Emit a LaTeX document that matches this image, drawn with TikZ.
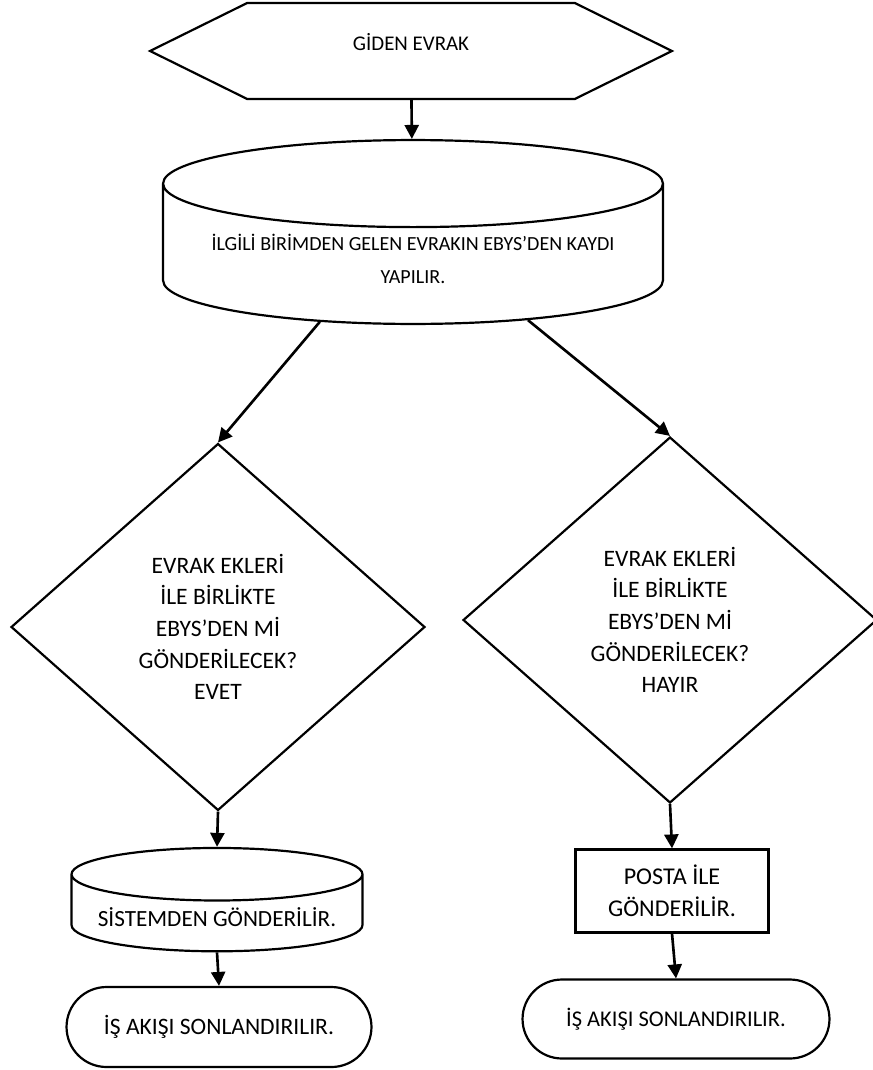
\documentclass[tikz,border=0pt]{standalone}
\usepackage{fontspec}
\setmainfont{Carlito}
\usetikzlibrary{arrows.meta,shapes.geometric,shapes.misc,shapes.symbols}

\begin{document}
\begin{tikzpicture}[x=0.02cm, y=-0.02cm,
		every node/.style={align=center, line width=1.25pt},
		hexa/.style={draw, signal, signal to=east and west, signal pointer angle=52.6, minimum width=10.44cm, minimum height=1.92cm, inner sep=0pt, text depth=0.36cm},
		drum/.style={draw, cylinder, shape border rotate=90, aspect=0.21},
		ask/.style={draw, diamond, inner sep=0pt, font=\fontsize{13.4}{18}\selectfont},
		stop/.style={draw, rounded rectangle, inner sep=0pt},
		flow/.style={line width=1.5pt, -{Triangle[length=0.28cm, width=0.28cm]}}]
			%%%%% START %%%%%
			
			\useasboundingbox (0, 0) rectangle (872, 1070);
			
			\node[hexa, font=\fontsize{11.9}{14}\selectfont] (giden) at (411, 51) {GİDEN EVRAK};
			\node[drum, minimum width=10cm, minimum height=3.4cm, font=\fontsize{11.4}{19}\selectfont] (kayit) at (413, 259) {İLGİLİ BİRİMDEN GELEN EVRAKIN EBYS’DEN KAYDI\\YAPILIR.};
			
			\node[ask, minimum width=8.28cm, minimum height=7.34cm] (evet) at (218, 627) {EVRAK EKLERİ\\İLE BİRLİKTE\\EBYS’DEN Mİ\\GÖNDERİLECEK?\\EVET};
			\node[ask, minimum width=8.28cm, minimum height=7.32cm] (hayir) at (670, 620) {EVRAK EKLERİ\\İLE BİRLİKTE\\EBYS’DEN Mİ\\GÖNDERİLECEK?\\HAYIR};
			
			\node[drum, minimum width=5.82cm, minimum height=1.64cm, font=\fontsize{13.2}{16}\selectfont] (sistem) at (217, 917) {SİSTEMDEN GÖNDERİLİR.};
			\node[draw, minimum width=3.86cm, minimum height=1.66cm, font=\fontsize{13.7}{18.2}\selectfont] (posta) at (672, 891) {POSTA İLE\\GÖNDERİLİR.};
			
			\node[stop, minimum width=6.1cm, minimum height=1.6cm, font=\fontsize{13.4}{16}\selectfont] (sonl) at (219, 1027) {İŞ AKIŞI SONLANDIRILIR.};
			\node[stop, minimum width=6.14cm, minimum height=1.58cm, font=\fontsize{12.8}{16}\selectfont] (sonr) at (676, 1019) {İŞ AKIŞI SONLANDIRILIR.};
			
			\draw[flow] (giden) -- (kayit);
			\draw[flow] (kayit.214.6) -- (evet.north);
			\draw[flow] (kayit.332) -- (hayir.north);
			\draw[flow] (evet.south) -- (sistem.north);
			\draw[flow] (sistem.south) -- (sonl.north);
			\draw[flow] (hayir.south) -- (posta.north);
			\draw[flow] (posta.south) -- (sonr.north);
			
			%%%%% END %%%%%
		\end{tikzpicture}
\end{document}
